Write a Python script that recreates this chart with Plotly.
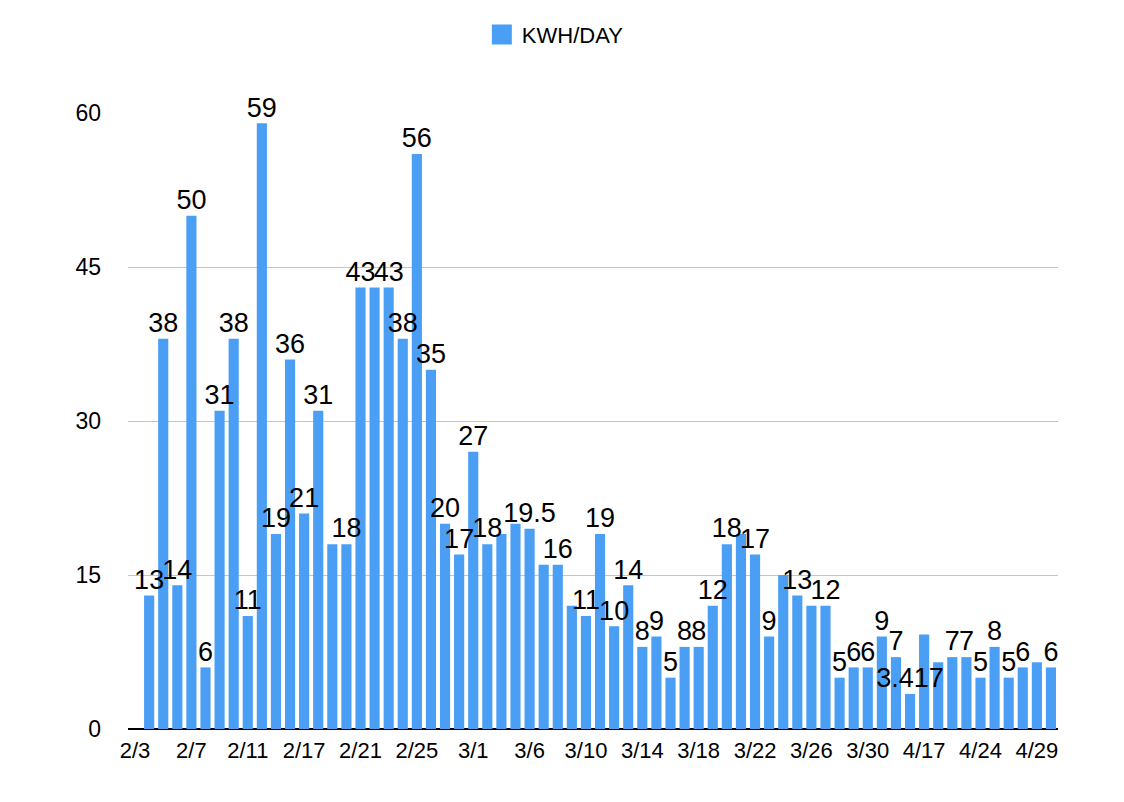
import plotly.graph_objects as go

# Days (category labels); first slot has no reading
dates = [
    "2/3", "2/4", "2/5", "2/6", "2/7", "2/8", "2/9", "2/10",
    "2/11", "2/13", "2/15", "2/16", "2/17", "2/18", "2/19", "2/20",
    "2/21", "2/22", "2/23", "2/24", "2/25", "2/26", "2/27", "2/28",
    "3/1", "3/2", "3/3", "3/4", "3/6", "3/7", "3/8", "3/9",
    "3/10", "3/11", "3/12", "3/13", "3/14", "3/15", "3/16", "3/17",
    "3/18", "3/19", "3/20", "3/21", "3/22", "3/23", "3/24", "3/25",
    "3/26", "3/27", "3/28", "3/29", "3/30", "3/31", "4/5", "4/10",
    "4/17", "4/18", "4/20", "4/22", "4/24", "4/25", "4/26", "4/27",
    "4/29", "4/30",
]

kwh_per_day = [
    None, 13, 38, 14, 50, 6, 31, 38,
    11, 59, 19, 36, 21, 31, 18, 18,
    43, 43, 43, 38, 56, 35, 20, 17,
    27, 18, 19, 20, 19.5, 16, 16, 12,
    11, 19, 10, 14, 8, 9, 5, 8,
    8, 12, 18, 19, 17, 9, 15, 13,
    12, 12, 5, 6, 6, 9, 7, 3.417,
    9.2, 6.5, 7, 7, 5, 8, 5, 6,
    6.5, 6,
]

# labels that the original chart does not print (they would overlap)
hidden_label_idx = [14, 17, 26, 27, 29, 31, 43, 46, 48, 56, 57, 64]

tick_dates = dates[::4]
y_ticks = [0, 15, 30, 45, 60]

labels = []
for i, v in enumerate(kwh_per_day):
    if v is None or i in hidden_label_idx:
        labels.append("")
    else:
        labels.append(f"{v:g}")

BLUE = "#4A9FF5"
FONT = "Liberation Sans, Arial, sans-serif"

fig = go.Figure()

fig.add_trace(go.Bar(
    x=dates, y=kwh_per_day, name="KWH/DAY",
    marker_color=BLUE, marker_line_width=0,
    showlegend=False, hoverinfo="x+y",
))

# value labels as a separate text layer so they sit on top of every bar
fig.add_trace(go.Scatter(
    x=dates, y=kwh_per_day, mode="text", text=labels,
    textposition="top center", cliponaxis=False,
    textfont=dict(family=FONT, size=27, color="black"),
    showlegend=False, hoverinfo="skip",
))

# legend swatch (bigger square than plotly's default bar swatch)
fig.add_trace(go.Scatter(
    x=[None], y=[None], mode="markers", name="KWH/DAY",
    marker=dict(symbol="square", size=16, color=BLUE,
                line=dict(color=BLUE, width=4)),
))

# page body has an 8px margin, so the figure is a bit smaller than the window
fig.update_layout(
    width=1108, height=786,
    margin=dict(l=120, r=58, t=105, b=65, autoexpand=False),
    plot_bgcolor="white", paper_bgcolor="white",
    bargap=0.28,
    font=dict(family=FONT, size=22, color="black"),
    legend=dict(
        orientation="h", xref="container", yref="container",
        x=0.494, xanchor="center", y=0.966, yanchor="middle",
        font=dict(size=22), itemsizing="trace",
    ),
)

fig.update_xaxes(
    type="category", categoryorder="array", categoryarray=dates,
    range=[-0.5, len(dates) - 0.5],
    tickmode="array", tickvals=tick_dates, ticktext=tick_dates,
    showgrid=False, showline=False, ticks="",
    tickfont=dict(size=22), ticklabelstandoff=6,
)

fig.update_yaxes(
    range=[0, 60], tickvals=y_ticks,
    showgrid=True, gridcolor="#C4C4C4", gridwidth=1,
    zeroline=True, zerolinecolor="black", zerolinewidth=2,
    showline=False, ticks="", ticklabelstandoff=26,
    tickfont=dict(size=23),
)

fig.write_html("out.html")
